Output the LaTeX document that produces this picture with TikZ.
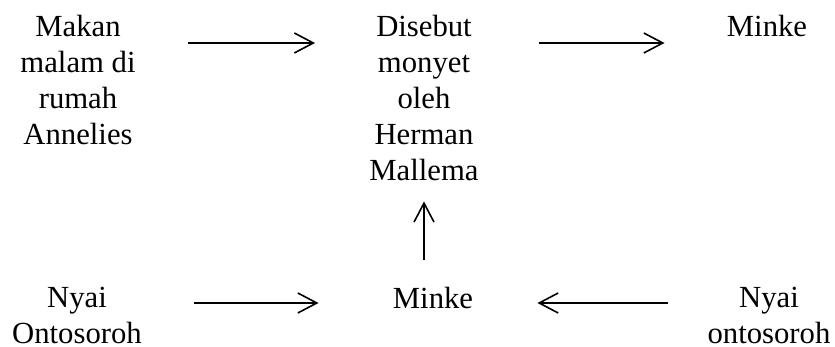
\documentclass[tikz,border=0pt]{standalone}
\usepackage{fontspec}
\setmainfont{Liberation Serif}
\usetikzlibrary{arrows.meta,positioning,calc}

\begin{document}
\begin{tikzpicture}[x=0.5pt,y=0.5pt,
		txt/.style={align=center, inner sep=0pt, anchor=north, font=\fontsize{15.35}{18}\selectfont},
		arr/.style={-{Straight Barb[length=9.5pt,width=10pt]}, line width=0.8pt}]
		\useasboundingbox (0,0) rectangle (835,347);
		% top row
		\node[txt] (makan) at (78,332) {Makan\\malam di\\rumah\\Annelies};
		\node[txt] (disebut) at (424,332) {Disebut\\monyet\\oleh\\Herman\\Mallema};
		\node[txt] (minkeA) at (767,332) {Minke};
		% bottom row
		\node[txt] (nyaiL) at (77,60) {Nyai\\Ontosoroh};
		\node[txt] (minkeB) at (433,60) {Minke};
		\node[txt] (nyaiR) at (769,60) {Nyai\\ontosoroh};
		% arrows
		\draw[arr, shorten <=26pt, shorten >=27pt] ([yshift=-14pt]makan.north east) -- ([yshift=-14pt]disebut.north west);
		\draw[arr, shorten <=30pt, shorten >=31pt] ([yshift=-14pt]disebut.north east) -- ([yshift=-14pt]minkeA.north west);
		\draw[arr, shorten <=26pt, shorten >=37pt] ([yshift=-8pt]nyaiL.north east) -- ([yshift=-8pt]minkeB.north west);
		\draw[arr, shorten <=19.5pt, shorten >=32pt] ([yshift=-8pt]nyaiR.north west) -- ([yshift=-8pt]minkeB.north east);
		\draw[arr, shorten <=13.5pt, shorten >=10pt] (disebut.south |- minkeB.north) -- (disebut.south);
	\end{tikzpicture}
\end{document}
